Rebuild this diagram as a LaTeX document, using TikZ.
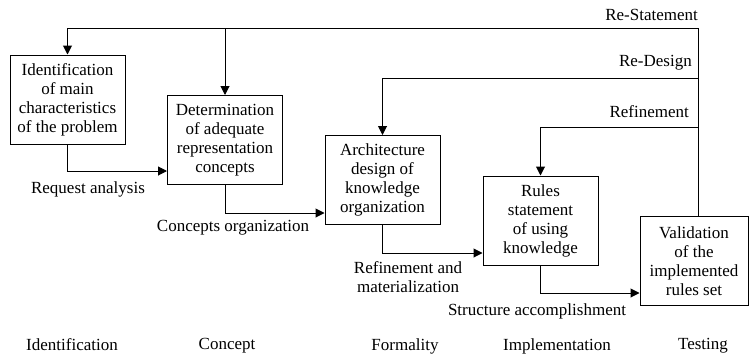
\documentclass[tikz,border=0pt]{standalone}
\usepackage{fontspec}
\setmainfont{LiberationSerif}[Extension=.ttf,UprightFont=*-Regular,BoldFont=*-Bold]
\usetikzlibrary{arrows.meta}
\begin{document}
\begin{tikzpicture}[x=1pt,y=-1pt,
  font=\fontsize{17}{19}\selectfont,
  stage/.style={draw,line width=1pt,minimum width=115pt,minimum height=89pt,inner sep=0pt,align=center},
  lbl/.style={inner sep=0pt,align=center},
  ln/.style={line width=1pt},
  arr/.style={line width=1pt,-{Triangle[length=9pt,width=9pt]}}]
\useasboundingbox (0,0) rectangle (749,359);
\node[stage] (b1) at (67.5,99.5) {Identification\\of main\\characteristics\\of the problem};
\node[stage] (b2) at (225,140) {Determination\\of adequate\\representation\\concepts};
\node[stage] (b3) at (382.5,180) {Architecture\\design of\\knowledge\\organization};
\node[stage] (b4) at (540.5,220.5) {Rules\\statement\\of using\\knowledge};
\node[stage,minimum width=108pt] (b5) at (694,261) {Validation\\of the\\implemented\\rules set};
\coordinate (rt) at (698,28);
\coordinate (rd) at (698,78);
\coordinate (rf) at (698,127);
\draw[ln] (rt) -- (b5.north -| rt);
\draw[arr] (rt) -| (b1.north);
\draw[arr] (b2.north |- rt) -- (b2.north);
\draw[arr] (rd) -| (b3.north);
\draw[arr] (rf) -| (b4.north);
\draw[arr] (b1.south) |- ([yshift=-31pt]b2.west);
\draw[arr] (b2.south) |- ([yshift=-33pt]b3.west);
\draw[arr] (b3.south) |- ([yshift=-32.5pt]b4.west);
\draw[arr] (b4.south) |- ([yshift=-32pt]b5.west);
\node[lbl,anchor=east] (l1) at (698,15) {Re-Statement};
\node[lbl,anchor=east] (l2) at (692,63) {Re-Design};
\node[lbl,anchor=east] (l3) at (689,112) {Refinement};
\node[lbl] (f1) at (88,189) {Request analysis};
\node[lbl] (f2) at (233,228) {Concepts organization};
\node[lbl] (f3) at (408,277) {Refinement and\\materialization};
\node[lbl] (f4) at (537,311) {Structure accomplishment};
\node[lbl] (p1) at (72,345) {Identification};
\node[lbl] (p2) at (227,346) {Concept};
\node[lbl] (p3) at (405,346) {Formality};
\node[lbl] (p4) at (557,346) {Implementation};
\node[lbl] (p5) at (703,346) {Testing};
\end{tikzpicture}
\end{document}
